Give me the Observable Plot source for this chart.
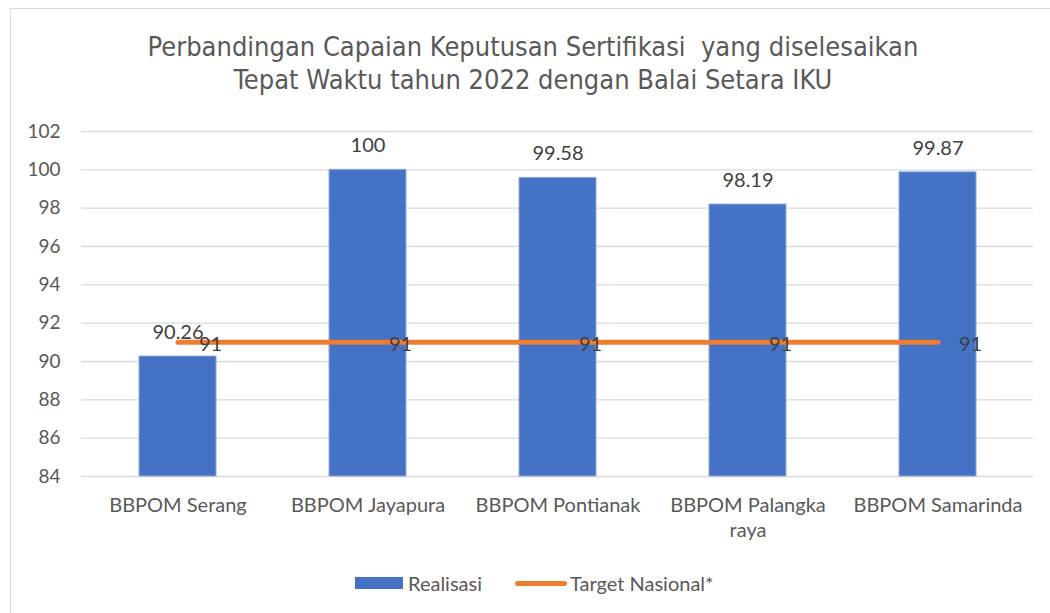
<!DOCTYPE html>
<html>
<head>
<meta charset="utf-8">
<script src="https://cdn.jsdelivr.net/npm/d3@7"></script>
<script src="https://cdn.jsdelivr.net/npm/@observablehq/plot@0.6"></script>
<style>
  html, body { margin: 0; padding: 0; background: #fff; }
  #wrap { position: relative; width: 1050px; height: 613px; overflow: hidden; font-family: Lato, "Open Sans", sans-serif; color: #595959; }
  #frame { position: absolute; left: 10px; top: 8px; width: 1100px; height: 640px; border: 1px solid #d9d9d9; box-sizing: border-box; }
  #title { position: absolute; left: 0; top: 0; width: 1066px; height: 110px; text-align: center; font-family: "Liberation Sans Narrow", "DejaVu Sans Condensed", sans-serif; font-size: 27px; line-height: 33px; padding-top: 30px; box-sizing: border-box; color: #595959; }
  #chart { position: absolute; left: 0; top: 110px; }
  #legend { position: absolute; top: 570px; left: 0; width: 1050px; height: 26px; font-size: 20px; color: #595959; }
  .li { position: absolute; top: 0; display: flex; align-items: center; height: 26px; }
  .sw-bar { width: 48px; height: 12px; background: #4472C4; margin-right: 5px; }
  .sw-line { width: 52px; height: 5px; border-radius: 3px; background: #ED7D31; margin-right: 3px; }
</style>
</head>
<body>
<div id="wrap">
  <div id="frame"></div>
  <div id="title">Perbandingan Capaian Keputusan Sertifikasi&nbsp; yang diselesaikan<br>Tepat Waktu tahun 2022 dengan Balai Setara IKU</div>
  <div id="chart"></div>
  <div id="legend">
    <div class="li" style="left:355px"><div class="sw-bar"></div><span>Realisasi</span></div>
    <div class="li" style="left:515px"><div class="sw-line"></div><span>Target Nasional*</span></div>
  </div>
</div>
<script>
const categories = ["BBPOM Serang", "BBPOM Jayapura", "BBPOM Pontianak", "BBPOM Palangka raya", "BBPOM Samarinda"];
const tickLabels = ["BBPOM Serang", "BBPOM Jayapura", "BBPOM Pontianak", "BBPOM Palangka\nraya", "BBPOM Samarinda"];
const realisasi = [90.26, 100, 99.58, 98.19, 99.87];
const target = [91, 91, 91, 91, 91];
const yTicks = [84, 86, 88, 90, 92, 94, 96, 98, 100, 102];

const data = categories.map((c, i) => ({cat: c, real: realisasi[i], target: target[i]}));
const labelOf = new Map(categories.map((c, i) => [c, tickLabels[i]]));

const chart = Plot.plot({
  width: 1050,
  height: 450,
  marginTop: 21,
  marginBottom: 84,
  marginLeft: 81,
  marginRight: 17,
  style: {fontFamily: "Lato, 'Open Sans', sans-serif", color: "#595959", background: "transparent"},
  x: {domain: categories, paddingInner: 0.595, paddingOuter: 0.2975, align: 0.5, label: null},
  y: {domain: [84, 102], label: null},
  marks: [
    Plot.gridY(yTicks, {stroke: "#d9d9d9", strokeOpacity: 1, strokeWidth: 1.3}),
    Plot.axisY({ticks: yTicks, tickSize: 0, tickPadding: 21, fontSize: 19, label: null, fill: "#595959"}),
    Plot.axisX({tickSize: 0, tickPadding: 18, fontSize: 20, lineHeight: 1.25, label: null, tickFormat: d => labelOf.get(d), fill: "#595959"}),
    Plot.barY(data, {x: "cat", y1: 84, y2: "real", fill: "#4472C4", stroke: "#8FAADC", strokeWidth: 1}),
    Plot.text(data, {x: "cat", y: "real", text: d => String(d.real), dy: -24, fontSize: 20, fill: "#404040"}),
    Plot.lineY(data, {x: "cat", y: "target", stroke: "#ED7D31", strokeWidth: 5, strokeLinecap: "round"}),
    Plot.text(data, {x: "cat", y: "target", text: d => String(d.target), dx: 21, dy: 2, textAnchor: "start", fontSize: 20, fill: "#404040"})
  ]
});
document.getElementById("chart").appendChild(chart);
</script>
</body>
</html>
